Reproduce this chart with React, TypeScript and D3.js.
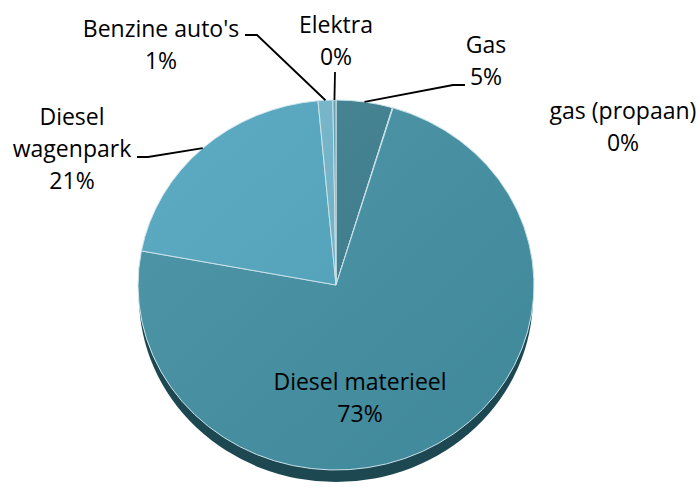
import * as d3 from "d3";

const WIDTH = 700;
const HEIGHT = 487;
const CX = 336;
const CY = 285;
const RX = 198;
const RY = 185;
const DEPTH = 12;

// data (share in %), clockwise from 12 o'clock
const categories = [
  "Gas",
  "gas (propaan)",
  "Diesel materieel",
  "Diesel wagenpark",
  "Benzine auto's",
  "Elektra",
];
const values = [4.6, 0.05, 73.3, 20.6, 1.2, 0.25];

const colors = ["#3e7f8f", "#3e7f8f", "#4390a3", "#52a6bf", "#72b5ca", "#5d9fb2"];

// label layout: text block position and optional leader elbow points
type LabelLayout = {
  lines: string[];
  x: number;
  y: number; // baseline of first line
  elbow?: [number, number][];
};
const labelLayout: LabelLayout[] = [
  { lines: ["Gas"], x: 486, y: 53, elbow: [[465, 85], [453, 85]] },
  { lines: ["gas (propaan)"], x: 623, y: 119 },
  { lines: ["Diesel materieel"], x: 360, y: 390 },
  { lines: ["Diesel", "wagenpark"], x: 72, y: 125, elbow: [[137, 157], [148, 157]] },
  { lines: ["Benzine auto's"], x: 161, y: 37, elbow: [[245, 35], [257, 35]] },
  { lines: ["Elektra"], x: 336, y: 33, elbow: [[335, 72]] },
];

const LINE_H = 32;
const FONT = "'Open Sans', Lato, sans-serif";

export default function App() {
  const total = d3.sum(values);
  const pie = d3
    .pie<number>()
    .sort(null)
    .value((d) => d);
  const arcs = pie(values);
  const arc = d3.arc<d3.PieArcDatum<number>>().innerRadius(0).outerRadius(RX);
  const sy = RY / RX;

  const edgePoint = (a: d3.PieArcDatum<number>): [number, number] => {
    const m = (a.startAngle + a.endAngle) / 2;
    return [CX + Math.sin(m) * RX, CY - Math.cos(m) * RY];
  };

  return (
    <svg
      width={WIDTH}
      height={HEIGHT}
      style={{ display: "block", position: "absolute", left: 0, top: 0 }}
    >
      <defs>
        <linearGradient id="shine" x1="0" y1="0" x2="1" y2="1">
          <stop offset="0" stopColor="#ffffff" stopOpacity={0.07} />
          <stop offset="1" stopColor="#000000" stopOpacity={0.05} />
        </linearGradient>
      </defs>
      {/* 3d side */}
      <ellipse cx={CX} cy={CY + DEPTH} rx={RX - 1} ry={RY} fill="#1d4852" />
      <g transform={`translate(${CX},${CY}) scale(1,${sy})`}>
        {arcs.map((a, i) => (
          <path
            key={categories[i]}
            d={arc(a) || ""}
            fill={colors[i]}
            stroke="#cfe6ee"
            strokeWidth={1}
            vectorEffect="non-scaling-stroke"
          />
        ))}
        <circle r={RX} fill="url(#shine)" />
      </g>
      {/* leader lines */}
      {arcs.map((a, i) => {
        const l = labelLayout[i];
        if (!l.elbow) return null;
        const pts = [...l.elbow, edgePoint(a)];
        return (
          <path
            key={i}
            d={d3.line()(pts) || ""}
            fill="none"
            stroke="#000"
            strokeWidth={1.8}
          />
        );
      })}
      {/* labels */}
      {labelLayout.map((l, i) => (
        <text
          key={i}
          x={l.x}
          y={l.y}
          textAnchor="middle"
          fontFamily={FONT}
          fontSize={23}
          fill="#000"
        >
          {[...l.lines, `${Math.round((values[i] / total) * 100)}%`].map((t, j) => (
            <tspan key={j} x={l.x} dy={j === 0 ? 0 : LINE_H}>
              {t}
            </tspan>
          ))}
        </text>
      ))}
    </svg>
  );
}
